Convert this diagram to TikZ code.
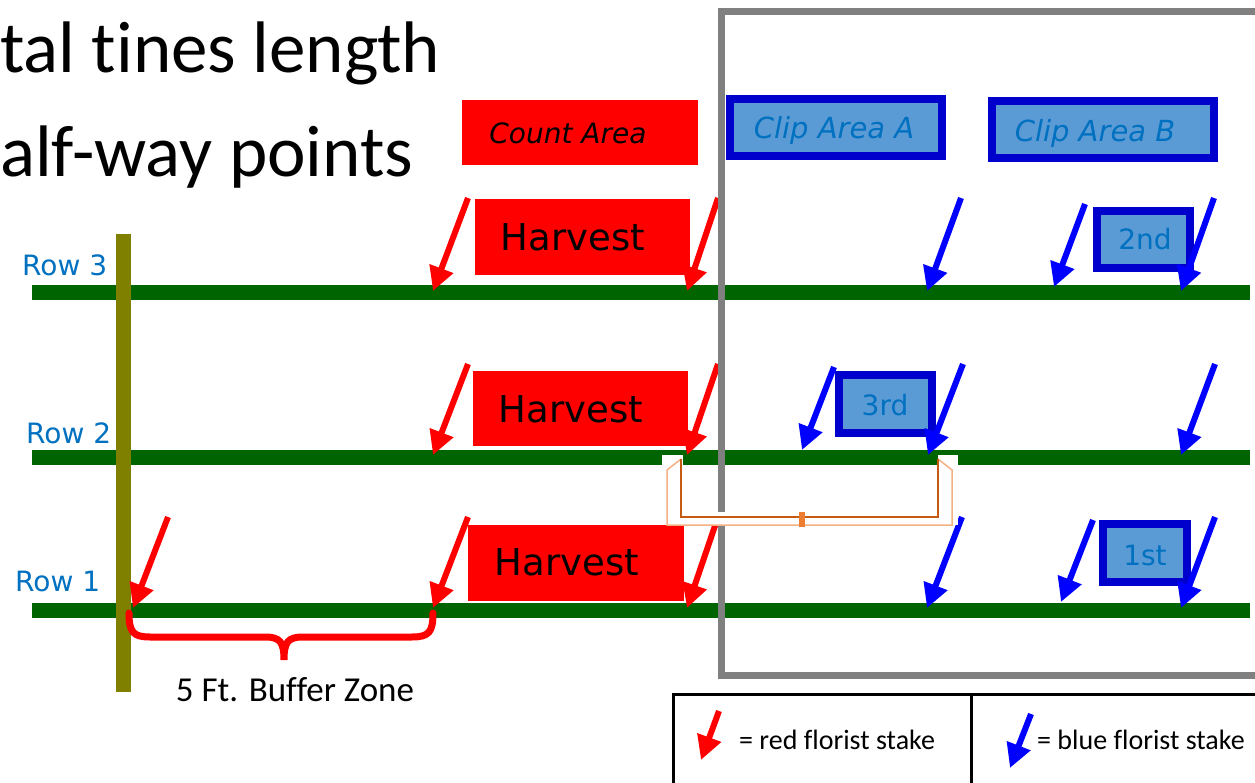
\documentclass[tikz,border=0pt]{standalone}
\usepackage{fontspec}
\setmainfont{Carlito}[Ligatures=CommonOff]
\newfontfamily\comicfont{DejaVu Sans}
\usetikzlibrary{arrows.meta}

\definecolor{rowgreen}{RGB}{0,100,0}
\definecolor{postolive}{RGB}{128,128,0}
\definecolor{rowblue}{RGB}{0,112,192}
\definecolor{clipfill}{RGB}{91,155,213}
\definecolor{clipedge}{RGB}{0,0,204}
\definecolor{framegray}{RGB}{128,128,128}
\definecolor{bracketdark}{RGB}{197,90,17}
\definecolor{bracketlight}{RGB}{244,177,131}
\definecolor{tickorange}{RGB}{237,125,49}

\begin{document}
\begin{tikzpicture}[x=1pt, y=-1pt,
    redstake/.style={draw=red, line width=6pt, -{Triangle[width=24pt,length=24pt]}},
    bluestake/.style={draw=blue, line width=6pt, -{Triangle[width=24pt,length=24pt]}},
    rowline/.style={draw=rowgreen, line width=15pt},
    rowlabel/.style={anchor=base west, inner sep=0pt, text=rowblue, font=\comicfont\fontsize{28}{30}\selectfont},
    harvesttext/.style={inner sep=0pt, font=\comicfont\fontsize{37}{40}\selectfont},
    clipbox/.style={draw=clipedge, fill=clipfill, line width=7.5pt},
    cliptext/.style={anchor=base, inner sep=0pt, text=rowblue, font=\comicfont\fontsize{28}{30}\selectfont},
    bigtext/.style={anchor=base west, inner sep=0pt, font=\fontsize{73}{80}\selectfont},
    legendtext/.style={anchor=base west, inner sep=0pt, font=\fontsize{28}{30}\selectfont}]
  \useasboundingbox (0,0) rectangle (1255,783);

  % heading, cut off at the left
  \node[bigtext] (tines) at (0,73) {tal tines length};
  \node[bigtext] (halfway) at (0,177) {alf-way points};

  % the three rows and the end post
  \draw[rowline] (32,293) -- (1250,293);
  \draw[rowline] (32,457) -- (1250,457);
  \draw[rowline] (32,610) -- (1250,610);
  \fill[postolive] (116,234) rectangle (131,692);
  \node[rowlabel] (row3) at (22,276) {Row 3};
  \node[rowlabel] (row2) at (26,443) {Row 2};
  \node[rowlabel] (row1) at (15,591) {Row 1};

  % count area and harvest strips
  \fill[red] (462,100) rectangle (698,165);
  \node[inner sep=0pt, font=\comicfont\itshape\fontsize{28}{30}\selectfont] (count) at (568,133) {Count Area};
  \fill[red] (475,199) rectangle (690,275);
  \fill[red] (473,371) rectangle (688,446);
  \fill[red] (468,525) rectangle (684,601);
  \node[harvesttext] (harvest3) at (573,237) {Harvest};
  \node[harvesttext] (harvest2) at (571,409) {Harvest};
  \node[harvesttext] (harvest1) at (567,562) {Harvest};

  % red stakes
  \draw[redstake] (468,198) -- (433,291);
  \draw[redstake] (718,198) -- (687,291);
  \draw[redstake] (468,364) -- (433,455);
  \draw[redstake] (718,364) -- (687,455);
  \draw[redstake] (168,517) -- (133,608);
  \draw[redstake] (468,517) -- (433,608);
  \draw[redstake] (718,517) -- (687,608);

  % clip areas
  \draw[clipbox] (730,99) rectangle (942,156);
  \node[cliptext, font=\comicfont\itshape\fontsize{29}{30}\selectfont] (clipA) at (834,139) {Clip Area A};
  \draw[clipbox] (992,101) rectangle (1214,158);
  \node[cliptext, font=\comicfont\itshape\fontsize{29}{30}\selectfont] (clipB) at (1095,142) {Clip Area B};
  \draw[clipbox] (1097,211) rectangle (1190,268);
  \node[cliptext] (second) at (1145,250) {2nd};
  \draw[clipbox] (839,375) rectangle (932,433);
  \node[cliptext] (third) at (885,415) {3rd};
  \draw[clipbox] (1103,524) rectangle (1187,582);
  \node[cliptext] (first) at (1145,565) {1st};

  % blue stakes
  \draw[bluestake] (961,198) -- (927,291);
  \draw[bluestake] (1085,204) -- (1054,287);
  \draw[bluestake] (1214,198) -- (1181,291);
  \draw[bluestake] (834,367) -- (802,450);
  \draw[bluestake] (963,364) -- (928,455);
  \draw[bluestake] (1215,364) -- (1181,455);
  \draw[bluestake] (962,517) -- (927,608);
  \draw[bluestake] (1093,520) -- (1061,602);
  \draw[bluestake] (1215,517) -- (1181,608);

  % frame round the clip areas
  \draw[framegray, line width=7pt] (721,12) rectangle (1265,675);

  % measuring bracket between the stakes
  \fill[white] (662,455) rectangle (683,466);
  \fill[white] (938,455) rectangle (958,466);
  \fill[white] (662,512) rectangle (958,525);
  \draw[bracketlight, line width=1.5pt] (681,459) -- (667,470) -- (667,525) -- (952,525) -- (952,470) -- (938,459);
  \draw[bracketdark, line width=2.5pt] (681,459) -- (681,517) -- (938,517) -- (938,459);
  \fill[tickorange] (799,512) rectangle (805,527);

  % buffer zone brace
  \draw[red, line width=7pt, line cap=round] (129,613) .. controls (129,632) and (133,637) .. (150,637) -- (265,637)
    .. controls (280,637) and (284,642) .. (284,660) .. controls (284,642) and (288,637) .. (303,637) -- (412,637)
    .. controls (429,637) and (433,632) .. (433,613);
  \node[anchor=base, inner sep=0pt, font=\fontsize{35}{36}\selectfont] (buffer) at (295,701) {5 Ft. Buffer Zone};

  % legend
  \draw[line width=3pt] (673,694) rectangle (1265,795);
  \draw[line width=3pt] (971,694) -- (971,795);
  \draw[redstake] (719,711) -- (701,760);
  \node[legendtext] (redkey) at (739,749) {= red florist stake};
  \draw[bluestake] (1031,714) -- (1010,768);
  \node[legendtext] (bluekey) at (1037,749) {= blue florist stake};
\end{tikzpicture}
\end{document}
